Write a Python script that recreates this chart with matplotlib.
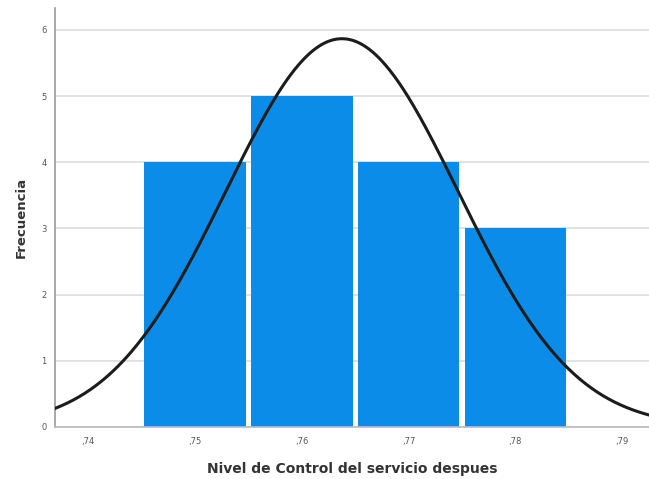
import numpy as np
import matplotlib
matplotlib.use("Agg")
import matplotlib.pyplot as plt

# Histogram data: values of the variable and their frequencies
valores = [0.75, 0.76, 0.77, 0.78]
frecuencias = [4, 5, 4, 3]
ticks_x = [0.74, 0.75, 0.76, 0.77, 0.78, 0.79]
etiquetas_x = [",74", ",75", ",76", ",77", ",78", ",79"]
ticks_y = [0, 1, 2, 3, 4, 5, 6]

ancho_bin = 0.01

fig = plt.figure(figsize=(6.49, 4.79), dpi=100)
ax = fig.add_axes([0.085, 0.109, 0.915, 0.874])

ax.set_axisbelow(True)
ax.yaxis.grid(True, color="#dcdcdc", linewidth=1.2)
ax.bar(valores, frecuencias, width=ancho_bin * 0.95, color="#0a8ce8",
       edgecolor="none", zorder=2)

# Normal curve fitted from the same frequencies
datos = np.repeat(valores, frecuencias)
media = datos.mean()
desv = datos.std(ddof=1)
xs = np.linspace(0.7369, 0.7925, 400)
ys = len(datos) * ancho_bin / (desv * np.sqrt(2 * np.pi)) * np.exp(-0.5 * ((xs - media) / desv) ** 2)
ax.plot(xs, ys, color="#1c1c1c", linewidth=2.2, zorder=3)

ax.set_xlim(0.7369, 0.7925)
ax.set_ylim(0, 6.33)
ax.set_xticks(ticks_x)
ax.set_xticklabels(etiquetas_x)
ax.set_yticks(ticks_y)
ax.tick_params(axis="both", length=0, labelsize=6, colors="#555555")
ax.tick_params(axis="x", pad=7)
ax.tick_params(axis="y", pad=6)

for s in ["top", "right"]:
    ax.spines[s].set_visible(False)
ax.spines["left"].set_color("#999999")
ax.spines["bottom"].set_color("#bbbbbb")
ax.spines["left"].set_linewidth(1.2)
ax.spines["bottom"].set_linewidth(1.2)

ax.set_xlabel("Nivel de Control del servicio despues", fontsize=10,
              fontweight="bold", color="#333333", labelpad=12)
ax.set_ylabel("Frecuencia", fontsize=9.5, fontweight="bold", color="#333333",
              labelpad=10)

fig.savefig("out.png", dpi=100)
